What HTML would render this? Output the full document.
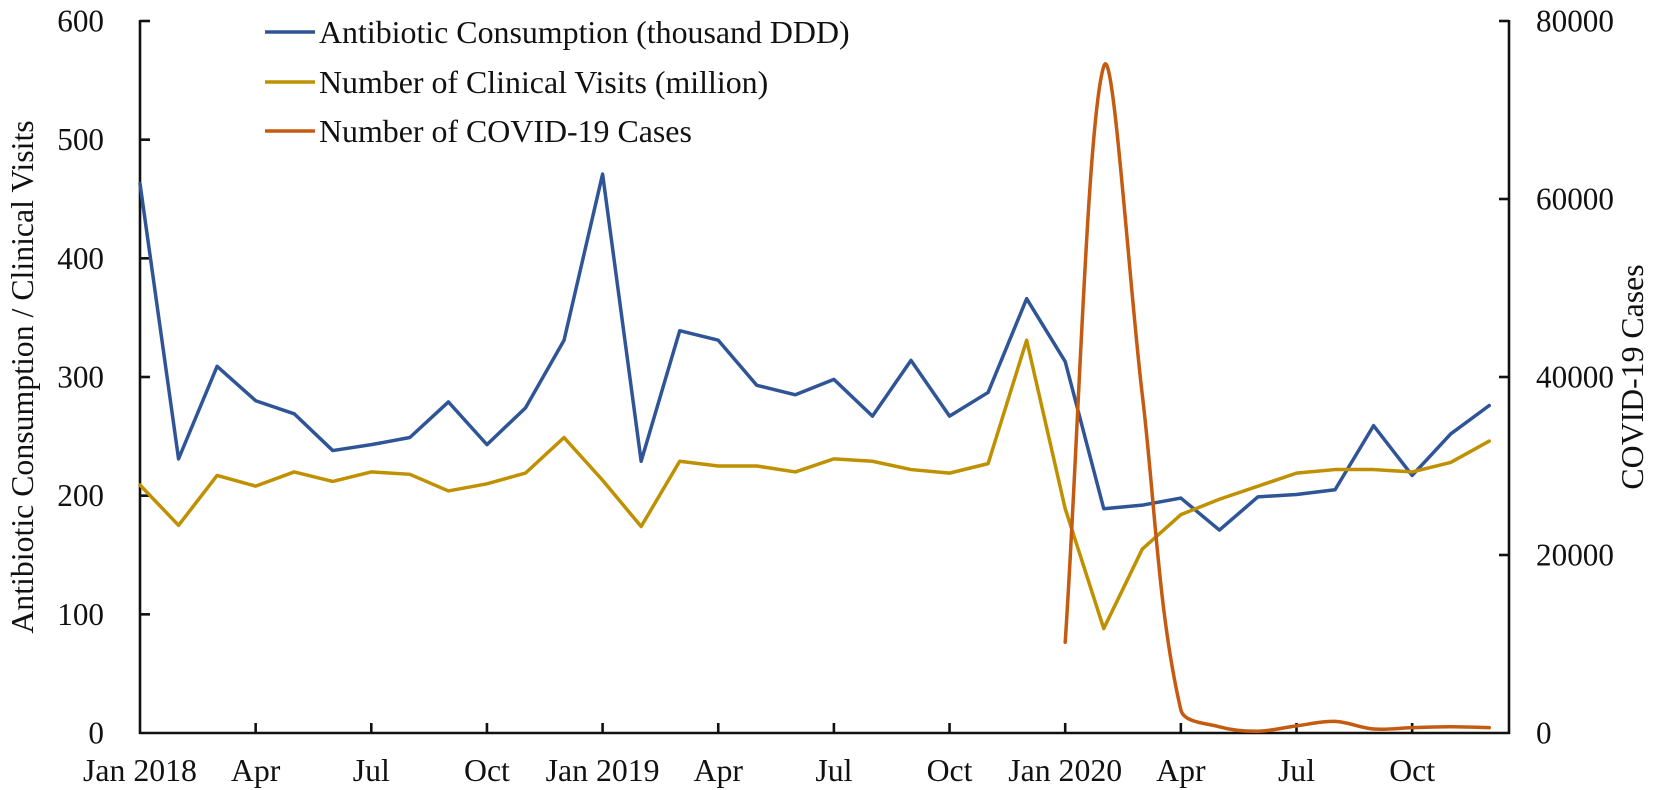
<!DOCTYPE html>
<html lang="en">
<head>
<meta charset="utf-8">
<title>Antibiotic Consumption, Clinical Visits and COVID-19 Cases</title>
<style>
html,body{margin:0;padding:0;background:#fff;}
svg{display:block;}
text{font-family:"Liberation Serif","Times New Roman",serif;fill:#111;}
</style>
</head>
<body>
<svg id="chart" xmlns="http://www.w3.org/2000/svg" width="1655" height="790" viewBox="0 0 1655 790">
  <rect x="0" y="0" width="1655" height="790" fill="#fff"/>
  <g id="axes"></g>
  <g id="series"></g>
  <text transform="translate(33,377) rotate(-90)" text-anchor="middle" font-size="31.8">Antibiotic Consumption / Clinical Visits</text>
  <text transform="translate(1643,377) rotate(-90)" text-anchor="middle" font-size="31.8">COVID-19 Cases</text>
  <g>
    <g>
      <line x1="265" x2="315" y1="32" y2="32" stroke="#2F5597" stroke-width="3.5"/>
      <text x="319" y="43" font-size="31.9">Antibiotic Consumption (thousand DDD)</text>
    </g>
    <g>
      <line x1="265" x2="315" y1="82" y2="82" stroke="#BF9000" stroke-width="3.5"/>
      <text x="319" y="93" font-size="31.9">Number of Clinical Visits (million)</text>
    </g>
    <g>
      <line x1="265" x2="315" y1="131" y2="131" stroke="#C55A11" stroke-width="3.5"/>
      <text x="319" y="142" font-size="31.9">Number of COVID-19 Cases</text>
    </g>
  </g>
</svg>
<script>
const antibiotic = [463,231,309,280,269,238,243,249,279,243,274,331,471,229,339,331,293,285,298,267,314,267,287,366,313,189,192,198,171,199,201,205,259,217,252,276];
const visits = [209,175,217,208,220,212,220,218,204,210,219,249,213,174,229,225,225,220,231,229,222,219,227,331,189,88,155,184,197,208,219,222,222,220,228,246];
const covidMonths = [24,25,26,27,28,29,30,31,32,33,34,35];
const covidCases = [10200,74900,38000,2600,700,200,800,1300,450,600,700,600];
const leftTicks = [0,100,200,300,400,500,600];
const rightTicks = [0,20000,40000,60000,80000];
const xTickMonths = [0,3,6,9,12,15,18,21,24,27,30,33];
const xTickLabels = ['Jan 2018','Apr','Jul','Oct','Jan 2019','Apr','Jul','Oct','Jan 2020','Apr','Jul','Oct'];

const NS = 'http://www.w3.org/2000/svg';
const plotLeft = 140, plotRight = 1509, plotTop = 21, plotBottom = 733;
const monthWidth = 38.55;
const tickFont = 31.2;
const xLabelFont = 31.8;
const xScale = m => plotLeft + m * monthWidth;
const yLeft = v => plotBottom - (v / 600) * (plotBottom - plotTop);
const yRight = v => plotBottom - (v / 80000) * (plotBottom - plotTop);
const axes = document.getElementById('axes');
const series = document.getElementById('series');

function mk(tag, attrs, parent) {
  const el = document.createElementNS(NS, tag);
  for (const k in attrs) el.setAttribute(k, attrs[k]);
  parent.appendChild(el);
  return el;
}

const axisStyle = {stroke:'#111', 'stroke-width':2.6, fill:'none'};

const leftAxis = mk('line', {x1:plotLeft, x2:plotLeft, y1:plotTop-1, y2:plotBottom+1, ...axisStyle}, axes);


const rightAxis = mk('line', {x1:plotRight, x2:plotRight, y1:plotTop-1, y2:plotBottom+1, ...axisStyle}, axes);


const xAxis = mk('line', {x1:plotLeft-1, x2:plotRight+1, y1:plotBottom, y2:plotBottom, ...axisStyle}, axes);



leftTicks.forEach(v => {
  const y = yLeft(v);
  if (v > 0) {
    const t = mk('line', {x1:plotLeft, x2:plotLeft+10, y1:y, y2:y, ...axisStyle}, axes);
    
    
  }
  const l = mk('text', {x:104, y:y+10.5, 'text-anchor':'end', 'font-size':tickFont}, axes);
  
  
  l.textContent = v;
});

rightTicks.forEach(v => {
  const y = yRight(v);
  if (v > 0) {
    const t = mk('line', {x1:plotRight-10, x2:plotRight, y1:y, y2:y, ...axisStyle}, axes);
    
    
  }
  const l = mk('text', {x:1536, y:y+10.5, 'font-size':tickFont}, axes);
  
  
  l.textContent = v;
});

xTickMonths.forEach((m, i) => {
  const x = xScale(m);
  if (m > 0) {
    const t = mk('line', {x1:x, x2:x, y1:plotBottom-10, y2:plotBottom, ...axisStyle}, axes);
    
    
  }
  const l = mk('text', {x:x, y:781, 'text-anchor':'middle', 'font-size':xLabelFont}, axes);
  
  
  l.textContent = xTickLabels[i];
});

function straightPath(values) {
  return values.map((v, i) => (i ? 'L' : 'M') + xScale(i).toFixed(2) + ' ' + yLeft(v).toFixed(2)).join(' ');
}

function smoothPath(months, values) {
  const pts = months.map((m, i) => [xScale(m), yRight(values[i])]);
  const k = 1 / 3;
  const handles = pts.map((p, i) => {
    const a = pts[Math.max(i - 1, 0)], b = pts[Math.min(i + 1, pts.length - 1)];
    const d1 = Math.hypot(p[0] - a[0], p[1] - a[1]), d2 = Math.hypot(b[0] - p[0], b[1] - p[1]);
    const s = (d1 + d2) || 1;
    const dx = b[0] - a[0], dy = b[1] - a[1];
    return {
      inX: p[0] - k * dx * d1 / s, inY: p[1] - k * dy * d1 / s,
      outX: p[0] + k * dx * d2 / s, outY: p[1] + k * dy * d2 / s
    };
  });
  let d = 'M' + pts[0][0].toFixed(2) + ' ' + pts[0][1].toFixed(2);
  for (let i = 0; i < pts.length - 1; i++) {
    const h1 = handles[i], h2 = handles[i + 1], p = pts[i + 1];
    d += ' C' + h1.outX.toFixed(2) + ' ' + h1.outY.toFixed(2) + ' ' + h2.inX.toFixed(2) + ' ' + h2.inY.toFixed(2) + ' ' + p[0].toFixed(2) + ' ' + p[1].toFixed(2);
  }
  return d;
}

const lineStyle = {fill:'none', 'stroke-width':3.5, 'stroke-linejoin':'round', 'stroke-linecap':'round'};

const antibioticLine = mk('path', {d:straightPath(antibiotic), stroke:'#2F5597', ...lineStyle}, series);



const visitsLine = mk('path', {d:straightPath(visits), stroke:'#BF9000', ...lineStyle}, series);



const covidLine = mk('path', {d:smoothPath(covidMonths, covidCases), stroke:'#C55A11', ...lineStyle}, series);


</script>
</body>
</html>
